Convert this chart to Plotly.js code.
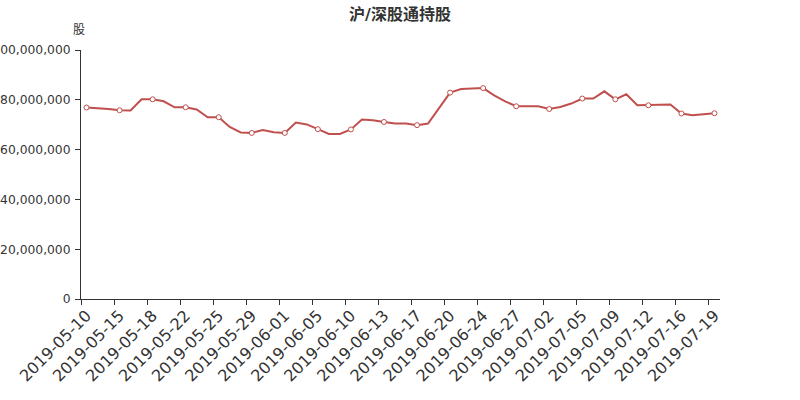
<!DOCTYPE html>
<html>
<head>
<meta charset="utf-8">
<script src="https://cdn.plot.ly/plotly-3.0.1.min.js"></script>
<style>html,body{margin:0;padding:0;background:#fff;}#chart{width:800px;height:400px;}</style>
</head>
<body>
<div id="chart"></div>
<script>
// Dates (category axis)
var dates = [
  "2019-05-10","2019-05-13","2019-05-14","2019-05-15","2019-05-16","2019-05-17",
  "2019-05-18","2019-05-20","2019-05-21","2019-05-22","2019-05-23","2019-05-24",
  "2019-05-25","2019-05-27","2019-05-28","2019-05-29","2019-05-30","2019-05-31",
  "2019-06-01","2019-06-03","2019-06-04","2019-06-05","2019-06-06","2019-06-08",
  "2019-06-10","2019-06-11","2019-06-12","2019-06-13","2019-06-14","2019-06-15",
  "2019-06-17","2019-06-18","2019-06-19","2019-06-20","2019-06-21","2019-06-22",
  "2019-06-24","2019-06-25","2019-06-26","2019-06-27","2019-06-28","2019-06-29",
  "2019-07-02","2019-07-03","2019-07-04","2019-07-05","2019-07-06","2019-07-08",
  "2019-07-09","2019-07-10","2019-07-11","2019-07-12","2019-07-13","2019-07-15",
  "2019-07-16","2019-07-17","2019-07-18","2019-07-19"
];
// Holdings (shares)
var holdings = [
  76900000,76700000,76300000,75800000,75700000,80200000,
  80200000,79400000,77000000,77000000,76100000,73000000,
  73000000,69100000,66900000,66700000,67900000,67000000,
  66700000,70900000,70100000,68200000,66300000,66300000,
  68100000,72100000,71800000,71100000,70500000,70500000,
  69800000,70500000,76800000,82900000,84300000,84500000,
  84700000,81800000,79400000,77400000,77400000,77400000,
  76300000,77100000,78500000,80500000,80500000,83400000,
  80200000,82200000,77800000,77800000,77900000,78100000,
  74500000,73800000,74200000,74600000
];
var yTickVals = [0, 20000000, 40000000, 60000000, 80000000, 100000000];
var titleText = "沪/深股通持股";
var yName = "股";

var labelStep = 3;
var labelDates = dates.filter(function(d, i){ return i % labelStep === 0; });
var markX = dates.filter(function(d, i){ return i % labelStep === 0; });
var markY = holdings.filter(function(v, i){ return i % labelStep === 0; });
var tickBounds = [];
for (var i = 0; i < dates.length; i += labelStep) tickBounds.push(i - 0.5);

var lineColor = "#c0504d";
var font = "DejaVu Sans, Noto Sans CJK SC, sans-serif";

var traces = [
  {x: dates, y: holdings, type: "scatter", mode: "lines",
   line: {color: lineColor, width: 2}, hoverinfo: "x+y", showlegend: false},
  {x: markX, y: markY, type: "scatter", mode: "markers",
   marker: {color: "#ffffff", size: 5, line: {color: lineColor, width: 1}},
   hoverinfo: "skip", showlegend: false},
  // helper trace so the boundary-tick axis is drawn
  {x: [tickBounds[0]], y: [null], xaxis: "x2", yaxis: "y", type: "scatter",
   mode: "markers", marker: {opacity: 0}, hoverinfo: "skip", showlegend: false}
];

var layout = {
  width: 800, height: 400,
  margin: {l: 80.7, r: 80, t: 49.5, b: 100.5, pad: 0},
  paper_bgcolor: "#ffffff", plot_bgcolor: "#ffffff",
  font: {family: font, color: "#333333"},
  showlegend: false,
  title: {text: titleText, x: 0.5, xanchor: "center", xref: "container",
          y: 1 - 14/400, yanchor: "middle", yref: "container",
          font: {family: font, size: 16, color: "#333333", weight: "bold"}},
  xaxis: {type: "category", categoryorder: "array", categoryarray: dates,
          range: [-0.5, dates.length - 0.5], tickmode: "array", tickvals: labelDates,
          ticktext: labelDates, ticks: "", tickangle: -45,
          tickfont: {family: font, size: 16, color: "#333333"},
          showline: true, linecolor: "#333333", linewidth: 1,
          showgrid: false, zeroline: false, fixedrange: true},
  xaxis2: {overlaying: "x", anchor: "y", type: "linear",
           range: [-0.5, dates.length - 0.5], tickmode: "array", tickvals: tickBounds,
           ticks: "outside", ticklen: 5, tickcolor: "#333333", tickwidth: 1,
           showticklabels: false, showline: false, showgrid: false, zeroline: false,
           side: "bottom", fixedrange: true},
  yaxis: {range: [0, 100000000], tickmode: "array", tickvals: yTickVals,
          tickformat: ",d", ticks: "outside", ticklen: 5, tickcolor: "#333333",
          ticklabelstandoff: 2,
          tickfont: {family: font, size: 12.3, color: "#333333"},
          showline: true, linecolor: "#333333", linewidth: 1,
          showgrid: false, zeroline: false, fixedrange: true},
  annotations: [{text: yName, xref: "paper", yref: "paper", x: 0, y: 1,
                 xanchor: "center", yanchor: "middle", xshift: -2, yshift: 20.5,
                 showarrow: false, font: {family: font, size: 12, color: "#333333"}}]
};

Plotly.newPlot("chart", traces, layout, {displayModeBar: false, staticPlot: true});
</script>
</body>
</html>
